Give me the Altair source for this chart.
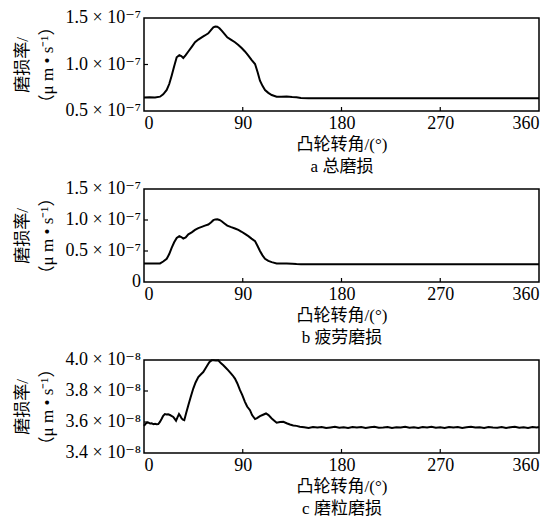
import altair as alt
import pandas as pd

# Shared angle samples for panels a and b (degrees)
AB_ANG = [0, 5, 10, 14.6, 17.5, 20.7, 23, 25.2, 27.5, 29.8,
          32.2, 34, 35.8, 38, 40.4, 43.5, 46.5, 49.5, 52.6, 55.5,
          58.6, 61, 63.2, 65, 66.8, 68.8, 70.8, 73.3, 75.9, 79.5,
          82.9, 86, 89, 92, 95.1, 98, 101.2, 103.5, 105.7, 108,
          110.3, 113.3, 116.4, 120.9, 125, 130, 135, 139, 143, 150,
          180, 270, 360]

# a 总磨损 (x 1e-7)
A_VAL = [0.645, 0.647, 0.645, 0.654, 0.68, 0.726, 0.79, 0.88, 0.98, 1.077,
         1.10, 1.09, 1.07, 1.10, 1.14, 1.19, 1.239, 1.268, 1.292, 1.312,
         1.335, 1.37, 1.40, 1.408, 1.407, 1.39, 1.364, 1.33, 1.292, 1.265,
         1.239, 1.21, 1.177, 1.14, 1.095, 1.05, 1.005, 0.92, 0.826, 0.77,
         0.726, 0.695, 0.672, 0.654, 0.652, 0.657, 0.65, 0.647, 0.64, 0.637,
         0.637, 0.637, 0.637]

# b 疲劳磨损 (x 1e-7)
B_VAL = [0.30, 0.30, 0.30, 0.30, 0.33, 0.375, 0.45, 0.55, 0.64, 0.71,
         0.74, 0.725, 0.70, 0.72, 0.77, 0.80, 0.84, 0.87, 0.89, 0.91,
         0.927, 0.96, 0.997, 1.01, 1.013, 1.0, 0.98, 0.945, 0.91, 0.885,
         0.863, 0.84, 0.81, 0.775, 0.74, 0.70, 0.66, 0.58, 0.50, 0.43,
         0.375, 0.34, 0.32, 0.30, 0.30, 0.30, 0.295, 0.29, 0.287, 0.285,
         0.285, 0.285, 0.285]

# c 磨粒磨损 (x 1e-8)
C_ANG = [0, 1, 2.5, 4, 5.5, 7, 8.5, 10, 11.5, 13,
         14.5, 16, 17.5, 19, 20.5, 22, 23.7, 25, 26.7, 28,
         29.2, 30.5, 31.9, 33, 34.3, 35.5, 36.7, 38.5, 40.4, 42.5,
         44.9, 47, 49.5, 51.5, 54, 56, 58.6, 60, 61.7, 63.5,
         65.5, 67.7, 70, 72.3, 74.5, 76.8, 79, 80.9, 82.9, 85,
         87.5, 89.5, 92, 94, 96.6, 98.5, 101.2, 103, 105.7, 108,
         111.2, 113.5, 116.4, 118.5, 120.9, 124, 127, 130, 133, 136,
         139, 142,
         146, 150, 154, 158, 162, 166, 170, 174, 178, 182,
         186, 190, 194, 198, 202, 206, 210, 214, 218, 222,
         226, 230, 234, 238, 242, 246, 250, 254, 258, 262,
         266, 270, 274, 278, 282, 286, 290, 294, 298, 302,
         306, 310, 314, 318, 322, 326, 330, 334, 338, 342,
         346, 350, 354, 358, 360]
C_VAL = [3.575, 3.585, 3.595, 3.597, 3.59, 3.592, 3.586, 3.588, 3.585, 3.587,
         3.60, 3.619, 3.64, 3.651, 3.648, 3.65, 3.645, 3.64, 3.633, 3.62,
         3.608, 3.63, 3.651, 3.64, 3.623, 3.615, 3.612, 3.66, 3.708, 3.76,
         3.816, 3.855, 3.89, 3.905, 3.922, 3.945, 3.976, 3.99, 3.998, 3.999,
         3.997, 3.998, 3.98, 3.966, 3.95, 3.933, 3.915, 3.9, 3.88, 3.85,
         3.805, 3.775, 3.73, 3.70, 3.676, 3.645, 3.619, 3.625, 3.638, 3.645,
         3.655, 3.645, 3.623, 3.61, 3.595, 3.60, 3.601, 3.592, 3.584, 3.578,
         3.575, 3.57,
         3.566, 3.562, 3.567, 3.564, 3.568, 3.561, 3.565, 3.569, 3.563, 3.566,
         3.562, 3.568, 3.564, 3.567, 3.561, 3.566, 3.569, 3.563, 3.565, 3.568,
         3.562, 3.566, 3.564, 3.569, 3.563, 3.566, 3.562, 3.567, 3.565, 3.569,
         3.563, 3.566, 3.562, 3.568, 3.564, 3.567, 3.562, 3.566, 3.569, 3.564,
         3.566, 3.562, 3.568, 3.565, 3.563, 3.567, 3.562, 3.566, 3.569, 3.563,
         3.566, 3.562, 3.567, 3.565, 3.568]

X_TICKS = [0, 90, 180, 270, 360]
X_INNER = [90, 180, 270]
A_TICKS = [0.5, 1.0, 1.5]
A_LABELS = ["0.5 × 10⁻⁷", "1.0 × 10⁻⁷", "1.5 × 10⁻⁷"]
B_TICKS = [0, 0.5, 1.0, 1.5]
B_LABELS = ["0", "0.5 × 10⁻⁷", "1.0 × 10⁻⁷", "1.5 × 10⁻⁷"]
C_TICKS = [3.4, 3.6, 3.8, 4.0]
C_LABELS = ["3.4 × 10⁻⁸", "3.6 × 10⁻⁸", "3.8 × 10⁻⁸", "4.0 × 10⁻⁸"]

X_TITLE = "凸轮转角/(°)"
Y_TITLE = ["磨损率/", "（μ m • s⁻¹）"]

W, H = 395, 93
SERIF = "Liberation Serif, DejaVu Serif, serif"
CJK = "Liberation Serif, Noto Sans CJK SC, serif"


def panel(ang, val, domain, yticks, ylabels, subtitle):
    df = pd.DataFrame({"angle": ang, "v": val})
    xscale = alt.Scale(domain=[0, 360], nice=False, zero=False)
    yscale = alt.Scale(domain=domain, nice=False, zero=False)
    line = alt.Chart(df).mark_line(color="black", strokeWidth=2).encode(
        x=alt.X("angle:Q", scale=xscale,
                axis=alt.Axis(values=X_TICKS, ticks=False, domain=False,
                              labelFontSize=18, labelPadding=3,
                              labelOverlap=False,
                              title=[X_TITLE, subtitle], titleFontSize=17,
                              titleLineHeight=22, titlePadding=4,
                              titleFont=CJK, titleFontWeight="normal",
                              labelFont=SERIF, labelColor="black",
                              titleColor="black")),
        y=alt.Y("v:Q", scale=yscale,
                axis=alt.Axis(values=yticks, ticks=False, domain=False,
                              labels=False, title=Y_TITLE,
                              titleFontSize=17, titleLineHeight=25,
                              titlePadding=88, titleFont=CJK,
                              titleFontWeight="normal", titleColor="black")),
    )
    ylab = alt.Chart(pd.DataFrame({"v": yticks, "lab": ylabels})).mark_text(
        align="right", baseline="middle", dx=-3, fontSize=18, font=SERIF,
        color="black").encode(
        y=alt.Y("v:Q", scale=yscale), x=alt.value(0), text="lab:N")
    xt = alt.Chart(pd.DataFrame({"angle": X_INNER})).mark_rule(
        color="black", strokeWidth=1.2).encode(
        x=alt.X("angle:Q", scale=xscale),
        y=alt.value(H), y2=alt.value(H - 4))
    inner_y = [t for t in yticks if domain[0] < t < domain[1]]
    yt = alt.Chart(pd.DataFrame({"v": inner_y})).mark_rule(
        color="black", strokeWidth=1.2).encode(
        y=alt.Y("v:Q", scale=yscale),
        x=alt.value(0), x2=alt.value(4))
    return alt.layer(line, ylab, xt, yt).properties(width=W, height=H)


pa = panel(AB_ANG, A_VAL, [0.5, 1.5], A_TICKS, A_LABELS, "a  总磨损")
pb = panel(AB_ANG, B_VAL, [0, 1.5], B_TICKS, B_LABELS, "b  疲劳磨损")
pc = panel(C_ANG, C_VAL, [3.4, 4.0], C_TICKS, C_LABELS, "c  磨粒磨损")

chart = alt.vconcat(pa, pb, pc, spacing=78, bounds="flush").properties(
    padding={"left": 4, "top": 0, "right": 2, "bottom": 0}
).configure_view(stroke="black", strokeWidth=1.5).configure_axis(
    grid=False, labelOverlap=False)

chart.save("out.html", embed_options={"renderer": "svg", "actions": False})
